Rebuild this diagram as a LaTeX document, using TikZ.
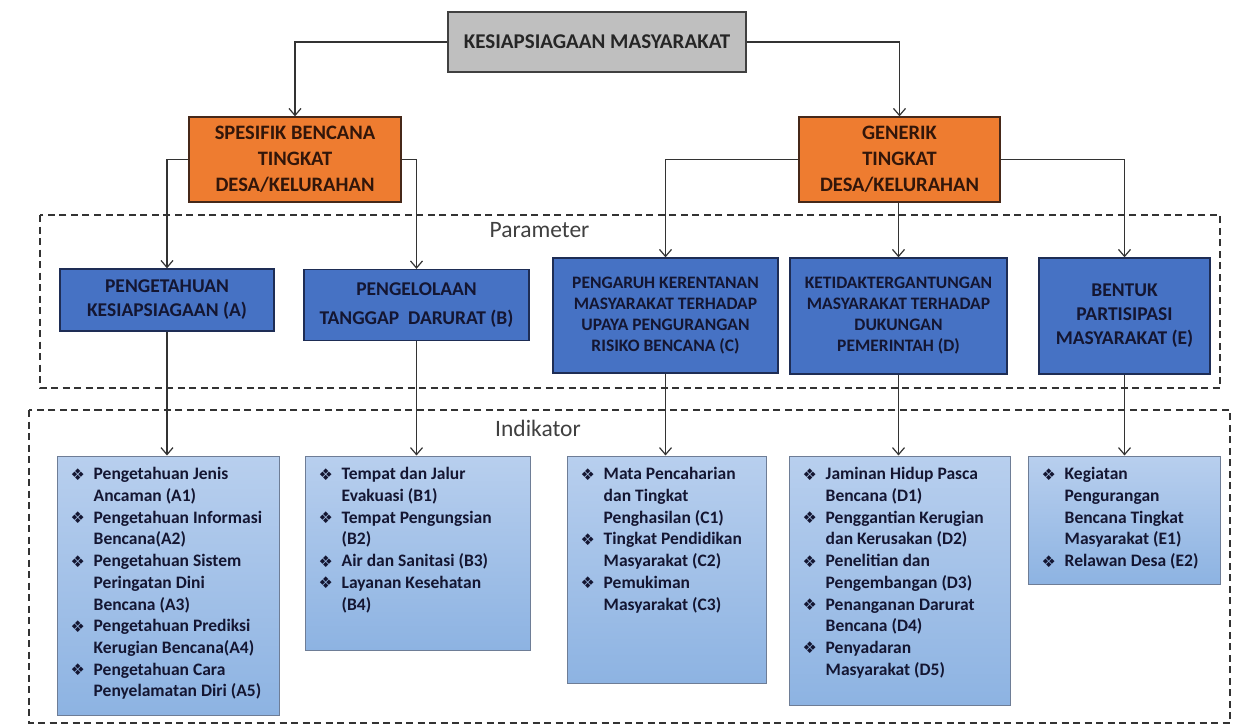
\documentclass[tikz,border=0pt]{standalone}
\usepackage{fontspec}
\setmainfont{Carlito}
\newfontfamily\symf{DejaVu Sans}
\usetikzlibrary{arrows.meta,calc}
\definecolor{topgray}{RGB}{191,191,191}
\definecolor{orangefill}{RGB}{238,124,48}
\definecolor{orangeborder}{RGB}{70,40,25}
\definecolor{pblue}{RGB}{70,114,196}
\definecolor{pborder}{RGB}{30,45,85}
\definecolor{indtop}{RGB}{184,207,238}
\definecolor{indbot}{RGB}{141,179,226}
\definecolor{indborder}{RGB}{110,125,150}
\definecolor{navytext}{RGB}{20,22,50}
\definecolor{browntext}{RGB}{50,22,10}
\newcommand{\bl}{\makebox[23pt][l]{\raisebox{-0.5pt}{\symf\fontsize{16}{16}\selectfont ❖}}}
\begin{document}
\begin{tikzpicture}[x=1pt,y=-1pt,
  topbox/.style={draw=black!75, line width=1.3pt, fill=topgray, minimum width=298pt, minimum height=60pt, inner sep=0pt, font=\bfseries\fontsize{21}{24}\selectfont, text=black!85},
  orangebox/.style={draw=orangeborder, line width=1.3pt, fill=orangefill, inner sep=0pt, align=center, font=\bfseries\fontsize{20.5}{26}\selectfont, text=browntext},
  parbox/.style={draw=pborder, line width=1.3pt, fill=pblue, inner sep=0pt, align=center, font=\bfseries\fontsize{19.5}{24}\selectfont, text=navytext},
  indbox/.style={draw=indborder, line width=1pt, top color=indtop, bottom color=indbot, inner sep=0pt},
  indtext/.style={anchor=north west, inner sep=0pt, align=left, font=\bfseries\fontsize{17.5}{21.7}\selectfont, text=navytext},
  conn/.style={draw=black!80, line width=1.2pt, -{Straight Barb[length=7pt,width=12pt]}},
  dashbox/.style={draw=black!80, line width=1.2pt, dash pattern=on 7pt off 4.5pt},
  lbl/.style={inner sep=0pt, font=\fontsize{23.5}{28}\selectfont, text=black!75}]
\useasboundingbox (0,0) rectangle (1233,725);
\fill[white] (0,0) rectangle (1233,725);

% dashed group frames
\draw[dashbox] (40,215) rectangle (1220,388);
\draw[dashbox] (29,410) rectangle (1230,723);
\node[lbl] (lpar) at (539.5,230) {Parameter};
\node[lbl] (lind) at (538,428) {Indikator};

% top
\node[topbox] (top) at (597,42) {KESIAPSIAGAAN MASYARAKAT};
\node[orangebox, minimum width=212pt, minimum height=85pt] (spes) at (295,159.5) {SPESIFIK BENCANA\\TINGKAT\\DESA/KELURAHAN};
\node[orangebox, minimum width=201pt, minimum height=85pt] (gen) at (899.5,159.5) {GENERIK\\TINGKAT\\DESA/KELURAHAN};

% parameter boxes
\node[parbox, minimum width=214pt, minimum height=62pt] (pA) at (167,300) {PENGETAHUAN\\KESIAPSIAGAAN (A)};
\node[parbox, minimum width=225pt, minimum height=71pt, font=\bfseries\fontsize{19.5}{29}\selectfont] (pB) at (416.5,305) {PENGELOLAAN\\TANGGAP\ \ DARURAT (B)};
\node[parbox, minimum width=225pt, minimum height=115pt, font=\bfseries\fontsize{17.5}{21}\selectfont] (pC) at (665.5,315.5) {PENGARUH KERENTANAN\\MASYARAKAT TERHADAP\\UPAYA PENGURANGAN\\RISIKO BENCANA (C)};
\node[parbox, minimum width=217pt, minimum height=116pt, font=\bfseries\fontsize{17.5}{21}\selectfont] (pD) at (898.5,316) {KETIDAKTERGANTUNGAN\\MASYARAKAT TERHADAP\\DUKUNGAN\\PEMERINTAH (D)};
\node[parbox, minimum width=171pt, minimum height=116pt] (pE) at (1124.5,316) {BENTUK\\PARTISIPASI\\MASYARAKAT (E)};

% indicator boxes
\node[indbox, minimum width=222pt, minimum height=259pt] (iA) at (168,585.5) {};
\node[indbox, minimum width=225pt, minimum height=194pt] (iB) at (417.5,553) {};
\node[indbox, minimum width=199pt, minimum height=227pt] (iC) at (666.5,569.5) {};
\node[indbox, minimum width=221pt, minimum height=249pt] (iD) at (899.5,580.5) {};
\node[indbox, minimum width=192pt, minimum height=128pt] (iE) at (1124,520) {};

\node[indtext] (tA) at ($(iA.north west)+(14,9)$) {\begin{tabular}{@{}l@{}l@{}}
\bl & Pengetahuan Jenis\\ & Ancaman (A1)\\
\bl & Pengetahuan Informasi\\ & Bencana(A2)\\
\bl & Pengetahuan Sistem\\ & Peringatan Dini\\ & Bencana (A3)\\
\bl & Pengetahuan Prediksi\\ & Kerugian Bencana(A4)\\
\bl & Pengetahuan Cara\\ & Penyelamatan Diri (A5)
\end{tabular}};
\node[indtext] (tB) at ($(iB.north west)+(14,9)$) {\begin{tabular}{@{}l@{}l@{}}
\bl & Tempat dan Jalur\\ & Evakuasi (B1)\\
\bl & Tempat Pengungsian\\ & (B2)\\
\bl & Air dan Sanitasi (B3)\\
\bl & Layanan Kesehatan\\ & (B4)
\end{tabular}};
\node[indtext] (tC) at ($(iC.north west)+(14,9)$) {\begin{tabular}{@{}l@{}l@{}}
\bl & Mata Pencaharian\\ & dan Tingkat\\ & Penghasilan (C1)\\
\bl & Tingkat Pendidikan\\ & Masyarakat (C2)\\
\bl & Pemukiman\\ & Masyarakat (C3)
\end{tabular}};
\node[indtext] (tD) at ($(iD.north west)+(14,9)$) {\begin{tabular}{@{}l@{}l@{}}
\bl & Jaminan Hidup Pasca\\ & Bencana (D1)\\
\bl & Penggantian Kerugian\\ & dan Kerusakan (D2)\\
\bl & Penelitian dan\\ & Pengembangan (D3)\\
\bl & Penanganan Darurat\\ & Bencana (D4)\\
\bl & Penyadaran\\ & Masyarakat (D5)
\end{tabular}};
\node[indtext] (tE) at ($(iE.north west)+(14,9)$) {\begin{tabular}{@{}l@{}l@{}}
\bl & Kegiatan\\ & Pengurangan\\ & Bencana Tingkat\\ & Masyarakat (E1)\\
\bl & Relawan Desa (E2)
\end{tabular}};

% connectors
\draw[conn] (top.west) -| (spes.north);
\draw[conn] (top.east) -| (gen.north);
\draw[conn] (spes.west) -| (pA.north);
\draw[conn] (spes.east) -| (pB.north);
\draw[conn] (gen.west) -| (pC.north);
\draw[conn] (pD.north |- gen.south) -- (pD.north);
\draw[conn] (gen.east) -| (pE.north);
\draw[conn] (pA.south) -- (pA.south |- iA.north);
\draw[conn] (pB.south) -- (pB.south |- iB.north);
\draw[conn] (pC.south) -- (pC.south |- iC.north);
\draw[conn] (pD.south) -- (pD.south |- iD.north);
\draw[conn] (pE.south) -- (pE.south |- iE.north);
\end{tikzpicture}
\end{document}
